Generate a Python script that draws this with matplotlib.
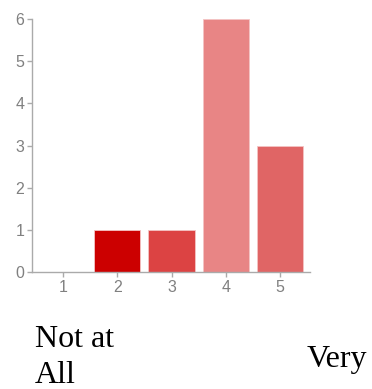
import matplotlib.pyplot as plt

# rating scale and number of responses per rating
ratings = [1, 2, 3, 4, 5]
counts = [0, 1, 1, 6, 3]
bar_colors = ['#cc0000', '#cc0000', '#dc4343', '#e88585', '#e06565']
y_ticks = [0, 1, 2, 3, 4, 5, 6]

fig = plt.figure(figsize=(3.72, 3.89), dpi=100)
ax = fig.add_axes([32 / 372, 117 / 389, 278 / 372, 253 / 389])

ax.bar(ratings, counts, width=0.85, color=bar_colors,
       edgecolor='#f4c4c4', linewidth=0.6, zorder=2)

ax.set_xlim(0.43, 5.55)
ax.set_ylim(0, 6)
ax.set_xticks(ratings)
ax.set_yticks(y_ticks)

grey = '#aaaaaa'
for side in ['top', 'right']:
    ax.spines[side].set_visible(False)
for side in ['left', 'bottom']:
    ax.spines[side].set_color(grey)
    ax.spines[side].set_linewidth(1.0)
ax.tick_params(colors=grey, length=3.5, width=1.0, labelsize=11.5,
               labelcolor='#808080', pad=2)
for lbl in ax.get_xticklabels() + ax.get_yticklabels():
    lbl.set_family('Liberation Sans')

# scale end captions below the chart
cap = dict(family='Liberation Serif', fontsize=23, color='black', va='baseline')
fig.text(35 / 372, 1 - 347 / 389, 'Not at', ha='left', **cap)
fig.text(35 / 372, 1 - 383 / 389, 'All', ha='left', **cap)
fig.text(307 / 372, 1 - 367 / 389, 'Very', ha='left', **cap)

fig.savefig('out.png', dpi=100)
